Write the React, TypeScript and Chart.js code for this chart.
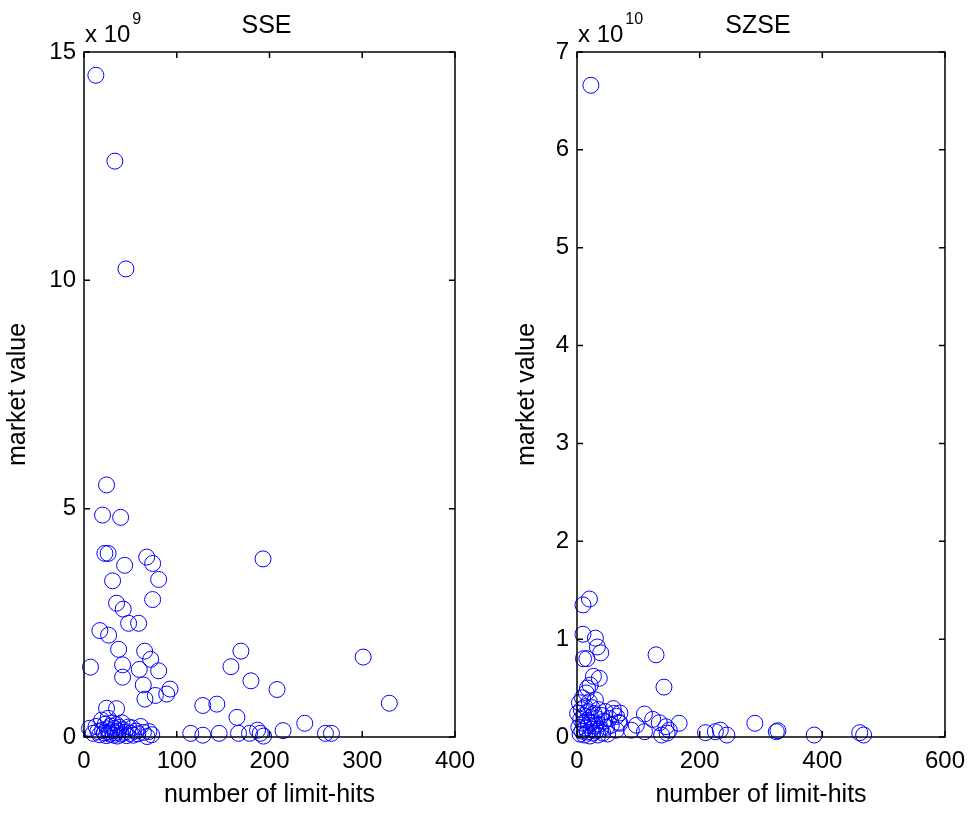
import React, { useEffect, useRef } from 'react';
import { Chart, registerables } from 'chart.js';

Chart.register(...registerables);

const FONT = '"Liberation Sans", Arial, Helvetica, sans-serif';

// SSE: number of limit-hits vs market value (x 10^9)
const sseHits = [
  12.8, 33.3, 45.2, 24.3, 20, 39.5, 22.5, 26, 67.6, 74, 43.8, 193, 80.5, 30.8, 74, 35.1, 42.3, 48.1, 58.9,
  17.1, 26.5, 37.3, 65.4, 71.9, 169.2, 7, 41.6, 59.6, 80.5, 158.4, 41.6, 63.9, 180, 92.8, 89.2, 76.9, 65.7,
  208.1, 301, 329.2, 24.3, 35.1, 128.1, 143.2, 164.9, 238, 115.1, 128.1, 145.7, 166.6, 178.5, 187.1, 190,
  193.6, 214.6, 260.3, 266.8,
  6, 10, 13, 15, 17, 19, 20, 22, 23, 24, 25, 26, 27, 28, 29, 30, 31, 32, 33, 34, 35, 36, 37, 38, 40, 41,
  42, 44, 46, 48, 50, 52, 53, 56, 58, 61, 64, 68, 70, 73,
];
const sseValues = [
  14.49, 12.61, 10.25, 5.52, 4.86, 4.81, 4.02, 4.02, 3.94, 3.8, 3.76, 3.9, 3.45, 3.42, 3.01, 2.93, 2.8, 2.49, 2.49,
  2.33, 2.23, 1.92, 1.88, 1.7, 1.88, 1.53, 1.58, 1.48, 1.45, 1.54, 1.31, 1.14, 1.23, 1.05, 0.94, 0.91, 0.83,
  1.04, 1.75, 0.74, 0.63, 0.62, 0.69, 0.72, 0.43, 0.3, 0.08, 0.04, 0.08, 0.08, 0.08, 0.15, 0.08,
  0.02, 0.14, 0.08, 0.08,
  0.19, 0.08, 0.23, 0.12, 0.05, 0.37, 0.15, 0.09, 0.28, 0.03, 0.18, 0.41, 0.11, 0.06, 0.24, 0.14, 0.31, 0.04, 0.19, 0.09, 0.27, 0.02, 0.13, 0.21, 0.06, 0.31,
  0.16, 0.1, 0.03, 0.22, 0.08, 0.2, 0.04, 0.13, 0.07, 0.23, 0.1, 0.01, 0.12, 0.05,
];

// SZSE: number of limit-hits vs market value (x 10^10)
const szseHits = [
  22.6, 20.3, 9.7, 9.7, 30, 33.2, 38.7, 10.6, 16.1, 128.9, 141.8, 36.4, 26.8, 21.4, 17.1, 110, 123.4, 134.2,
  166.5, 145, 150.4, 96.7, 88.6, 110, 138, 147, 209.5, 225.6, 233.7, 244.3, 290, 327.6, 325, 386.8, 461, 467.4,
  59, 64.5, 70, 70,
  1, 3, 4, 5, 6, 7, 8, 9, 10, 11, 12, 13, 14, 15, 16, 17, 18, 19, 20, 21, 22, 23, 24, 25, 26, 28, 29, 30, 31,
  32, 34, 35, 36, 38, 40, 42, 44, 46, 48, 50, 53, 56, 60, 64, 68,
];
const szseValues = [
  6.66, 1.41, 1.35, 1.05, 1.01, 0.92, 0.86, 0.8, 0.8, 0.84, 0.51, 0.6, 0.62, 0.53, 0.5, 0.235, 0.18, 0.146,
  0.14, 0.105, 0.07, 0.12, 0.07, 0.054, 0.02, 0.04, 0.044, 0.054, 0.07, 0.02, 0.14, 0.064, 0.054, 0.02, 0.044, 0.02,
  0.29, 0.21, 0.14, 0.245,
  0.24, 0.1, 0.35, 0.03, 0.18, 0.28, 0.06, 0.4, 0.14, 0.22, 0.02, 0.31, 0.09, 0.45, 0.17, 0.05, 0.26, 0.12, 0.36, 0.01, 0.2, 0.08, 0.3, 0.15, 0.04, 0.24, 0.11, 0.38, 0.06,
  0.19, 0.02, 0.28, 0.13, 0.08, 0.22, 0.04, 0.16, 0.26, 0.1, 0.03, 0.19, 0.12, 0.24, 0.07, 0.15,
];

const sseXTicks = [0, 100, 200, 300, 400];
const sseYTicks = [0, 5, 10, 15];
const szseXTicks = [0, 200, 400, 600];
const szseYTicks = [0, 1, 2, 3, 4, 5, 6, 7];

type PanelProps = {
  title: string;
  exponent: string;
  hits: number[];
  values: number[];
  xTicks: number[];
  yTicks: number[];
  canvasLeft: number;
  canvasWidth: number;
  area: { left: number; right: number; top: number; bottom: number };
  padLeft: number;
  yTitlePad: number;
};

const HEIGHT = 813;

function Panel(p: PanelProps) {
  const ref = useRef<HTMLCanvasElement | null>(null);
  useEffect(() => {
    const canvas = ref.current;
    if (!canvas) return;
    const xMin = p.xTicks[0];
    const xMax = p.xTicks[p.xTicks.length - 1];
    const yMin = p.yTicks[0];
    const yMax = p.yTicks[p.yTicks.length - 1];
    const yAxisWidth = p.area.left - p.canvasLeft - p.padLeft;
    const xAxisHeight = HEIGHT - p.area.bottom;

    const boxPlugin = {
      id: 'matlabBox',
      afterDraw(chart: any) {
        const { ctx, chartArea: a, scales } = chart;
        const xs = scales.x;
        const ys = scales.y;
        ctx.save();
        ctx.strokeStyle = '#000';
        ctx.lineWidth = 1.5;
        ctx.strokeRect(a.left, a.top, a.right - a.left, a.bottom - a.top);
        const tl = 6;
        ctx.beginPath();
        p.xTicks.forEach((v) => {
          const px = xs.getPixelForValue(v);
          ctx.moveTo(px, a.bottom);
          ctx.lineTo(px, a.bottom - tl);
          ctx.moveTo(px, a.top);
          ctx.lineTo(px, a.top + tl);
        });
        p.yTicks.forEach((v) => {
          const py = ys.getPixelForValue(v);
          ctx.moveTo(a.left, py);
          ctx.lineTo(a.left + tl, py);
          ctx.moveTo(a.right, py);
          ctx.lineTo(a.right - tl, py);
        });
        ctx.stroke();
        // title
        ctx.fillStyle = '#000';
        ctx.textAlign = 'center';
        ctx.textBaseline = 'alphabetic';
        ctx.font = `25px ${FONT}`;
        ctx.fillText(p.title, (a.left + a.right) / 2 - 3, 33);
        // exponent label
        ctx.textAlign = 'left';
        ctx.font = `24px ${FONT}`;
        const base = 'x 10';
        ctx.fillText(base, a.left + 1, 42);
        const w = ctx.measureText(base).width;
        ctx.font = `16px ${FONT}`;
        ctx.fillText(p.exponent, a.left + 1 + w + 2, 24);
        ctx.restore();
      },
    };

    const chart = new Chart(canvas, {
      type: 'scatter',
      data: {
        datasets: [
          {
            data: p.hits.map((h, i) => ({ x: h, y: p.values[i] })),
            borderColor: '#0000ff',
            backgroundColor: 'rgba(0,0,0,0)',
            borderWidth: 1,
            pointRadius: 8,
            pointHoverRadius: 8,
            pointStyle: 'circle',
            clip: false as any,
          },
        ],
      },
      options: {
        animation: false,
        responsive: false,
        devicePixelRatio: 1,
        events: [],
        layout: {
          padding: {
            left: p.padLeft,
            right: p.canvasLeft + p.canvasWidth - p.area.right,
            top: p.area.top,
            bottom: 0,
          },
        },
        plugins: {
          legend: { display: false },
          tooltip: { enabled: false },
          title: { display: false },
        },
        scales: {
          x: {
            type: 'linear',
            min: xMin,
            max: xMax,
            grid: { display: false, drawTicks: false },
            border: { display: false },
            afterBuildTicks: (scale: any) => {
              scale.ticks = p.xTicks.map((v) => ({ value: v }));
            },
            afterFit: (scale: any) => {
              scale.height = xAxisHeight;
            },
            ticks: {
              color: '#000',
              padding: 10,
              maxRotation: 0,
              autoSkip: false,
              font: { family: FONT, size: 24 },
              callback: (v: any) => String(v),
            },
            title: {
              display: true,
              text: 'number of limit-hits',
              color: '#000',
              font: { family: FONT, size: 25 },
              padding: { top: 0, bottom: 3 },
            },
          },
          y: {
            type: 'linear',
            min: yMin,
            max: yMax,
            grid: { display: false, drawTicks: false },
            border: { display: false },
            afterBuildTicks: (scale: any) => {
              scale.ticks = p.yTicks.map((v) => ({ value: v }));
            },
            afterFit: (scale: any) => {
              scale.width = yAxisWidth;
            },
            ticks: {
              color: '#000',
              padding: 8,
              autoSkip: false,
              font: { family: FONT, size: 24 },
              callback: (v: any) => String(v),
            },
            title: {
              display: true,
              text: 'market value',
              color: '#000',
              font: { family: FONT, size: 25 },
              padding: { top: p.yTitlePad, bottom: 0 },
            },
          },
        },
      },
      plugins: [boxPlugin],
    } as any);
    return () => chart.destroy();
  }, []);

  return (
    <canvas
      ref={ref}
      width={p.canvasWidth}
      height={HEIGHT}
      style={{ position: 'absolute', left: p.canvasLeft, top: 0, width: p.canvasWidth, height: HEIGHT }}
    />
  );
}

export default function App() {
  return (
    <div style={{ position: 'absolute', left: 0, top: 0, width: 975, height: HEIGHT, background: '#fff', overflow: 'hidden' }}>
      <Panel
        title="SSE"
        exponent="9"
        hits={sseHits}
        values={sseValues}
        xTicks={sseXTicks}
        yTicks={sseYTicks}
        canvasLeft={0}
        canvasWidth={490}
        area={{ left: 84, right: 455, top: 52, bottom: 737 }}
        padLeft={0}
        yTitlePad={3}
      />
      <Panel
        title="SZSE"
        exponent="10"
        hits={szseHits}
        values={szseValues}
        xTicks={szseXTicks}
        yTicks={szseYTicks}
        canvasLeft={490}
        canvasWidth={485}
        area={{ left: 577, right: 949, top: 52, bottom: 737 }}
        padLeft={22}
        yTitlePad={0}
      />
    </div>
  );
}
